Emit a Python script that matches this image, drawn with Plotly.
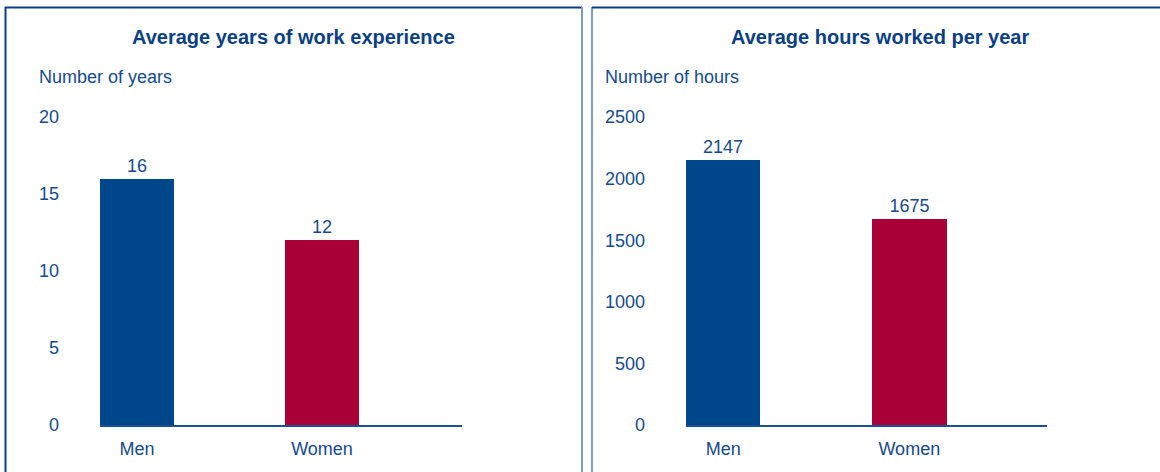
import plotly.graph_objects as go

categories = ["Men", "Women"]
years_values = [16, 12]
hours_values = [2147, 1675]
years_ticks = [0, 5, 10, 15, 20]
hours_ticks = [0, 500, 1000, 1500, 2000, 2500]
bar_colors = ["#00468B", "#AA0038"]

W, H = 1160, 472
FONT = "Liberation Sans, Arial, sans-serif"
TXT = "#154A8C"
TITLE = "#0B3F85"

def px(x):
    return x / W

def py(y):
    return 1 - y / H

fig = go.Figure()
xs = list(range(len(categories)))
fig.add_trace(go.Bar(x=xs, y=years_values, marker_color=bar_colors, marker_line_width=0,
                     width=0.4, text=[str(v) for v in years_values], textposition="outside",
                     textfont=dict(size=18, color=TXT, family=FONT), cliponaxis=False,
                     xaxis="x", yaxis="y", showlegend=False, hoverinfo="skip"))
fig.add_trace(go.Bar(x=xs, y=hours_values, marker_color=bar_colors, marker_line_width=0,
                     width=0.4, text=[str(v) for v in hours_values], textposition="outside",
                     textfont=dict(size=18, color=TXT, family=FONT), cliponaxis=False,
                     xaxis="x2", yaxis="y2", showlegend=False, hoverinfo="skip"))

ydom = [py(425), py(117)]
common_x = dict(tickmode="array", tickvals=xs, ticktext=categories, showgrid=False,
                zeroline=False, showline=True, linecolor="#1B4F96", linewidth=2,
                ticks="", tickfont=dict(size=18, color=TXT, family=FONT), ticklabelstandoff=6,
                fixedrange=True, automargin=False)
common_y = dict(showgrid=False, zeroline=False, showline=False, ticks="",
                tickfont=dict(size=18, color=TXT, family=FONT), ticklabelstandoff=40,
                domain=ydom, fixedrange=True, automargin=False)

fig.update_layout(
    width=W, height=H, margin=dict(l=0, r=0, t=0, b=0, pad=0, autoexpand=False),
    autosize=False,
    paper_bgcolor="white", plot_bgcolor="white", bargap=0,
    xaxis=dict(domain=[px(100), px(462)], range=[-0.2, 1.757], anchor="y", **common_x),
    yaxis=dict(range=[0, 20], tickvals=years_ticks, anchor="x", **common_y),
    xaxis2=dict(domain=[px(686), px(1047)], range=[-0.2, 1.74], anchor="y2", **common_x),
    yaxis2=dict(range=[0, 2500], tickvals=hours_ticks, anchor="x2", **common_y),
    shapes=[
        dict(type="line", xref="paper", yref="paper", x0=px(5.5), x1=px(5.5), y0=py(7), y1=py(480),
             line=dict(color="#0B3F85", width=2)),
        dict(type="line", xref="paper", yref="paper", x0=px(5), x1=px(582), y0=py(7.5), y1=py(7.5),
             line=dict(color="#0B3F85", width=2)),
        dict(type="line", xref="paper", yref="paper", x0=px(582), x1=px(582), y0=py(7), y1=py(480),
             line=dict(color="#7C9CC6", width=2)),
        dict(type="line", xref="paper", yref="paper", x0=px(592), x1=px(592), y0=py(7), y1=py(480),
             line=dict(color="#7C9CC6", width=2)),
        dict(type="line", xref="paper", yref="paper", x0=px(592), x1=px(1165), y0=py(7.5), y1=py(7.5),
             line=dict(color="#0B3F85", width=2)),
    ],
    annotations=[
        dict(text="<b>Average years of work experience</b>", xref="paper", yref="paper",
             x=px(293), y=py(37), xanchor="center", yanchor="middle", showarrow=False,
             font=dict(size=20, color=TITLE, family=FONT)),
        dict(text="<b>Average hours worked per year</b>", xref="paper", yref="paper",
             x=px(880), y=py(37), xanchor="center", yanchor="middle", showarrow=False,
             font=dict(size=20, color=TITLE, family=FONT)),
        dict(text="Number of years", xref="paper", yref="paper",
             x=px(37), y=py(77), xanchor="left", yanchor="middle", showarrow=False,
             font=dict(size=18, color=TXT, family=FONT)),
        dict(text="Number of hours", xref="paper", yref="paper",
             x=px(603), y=py(77), xanchor="left", yanchor="middle", showarrow=False,
             font=dict(size=18, color=TXT, family=FONT)),
    ],
)

fig.write_html(
    "out.html",
    config={"displayModeBar": False, "responsive": False},
    post_script=(
        "var d=document.getElementById('{plot_id}');"
        "d.style.position='fixed';d.style.top='0px';d.style.left='0px';"
        "document.body.style.margin='0';document.body.style.overflow='hidden';"
        "document.documentElement.style.overflow='hidden';"
    ),
)
